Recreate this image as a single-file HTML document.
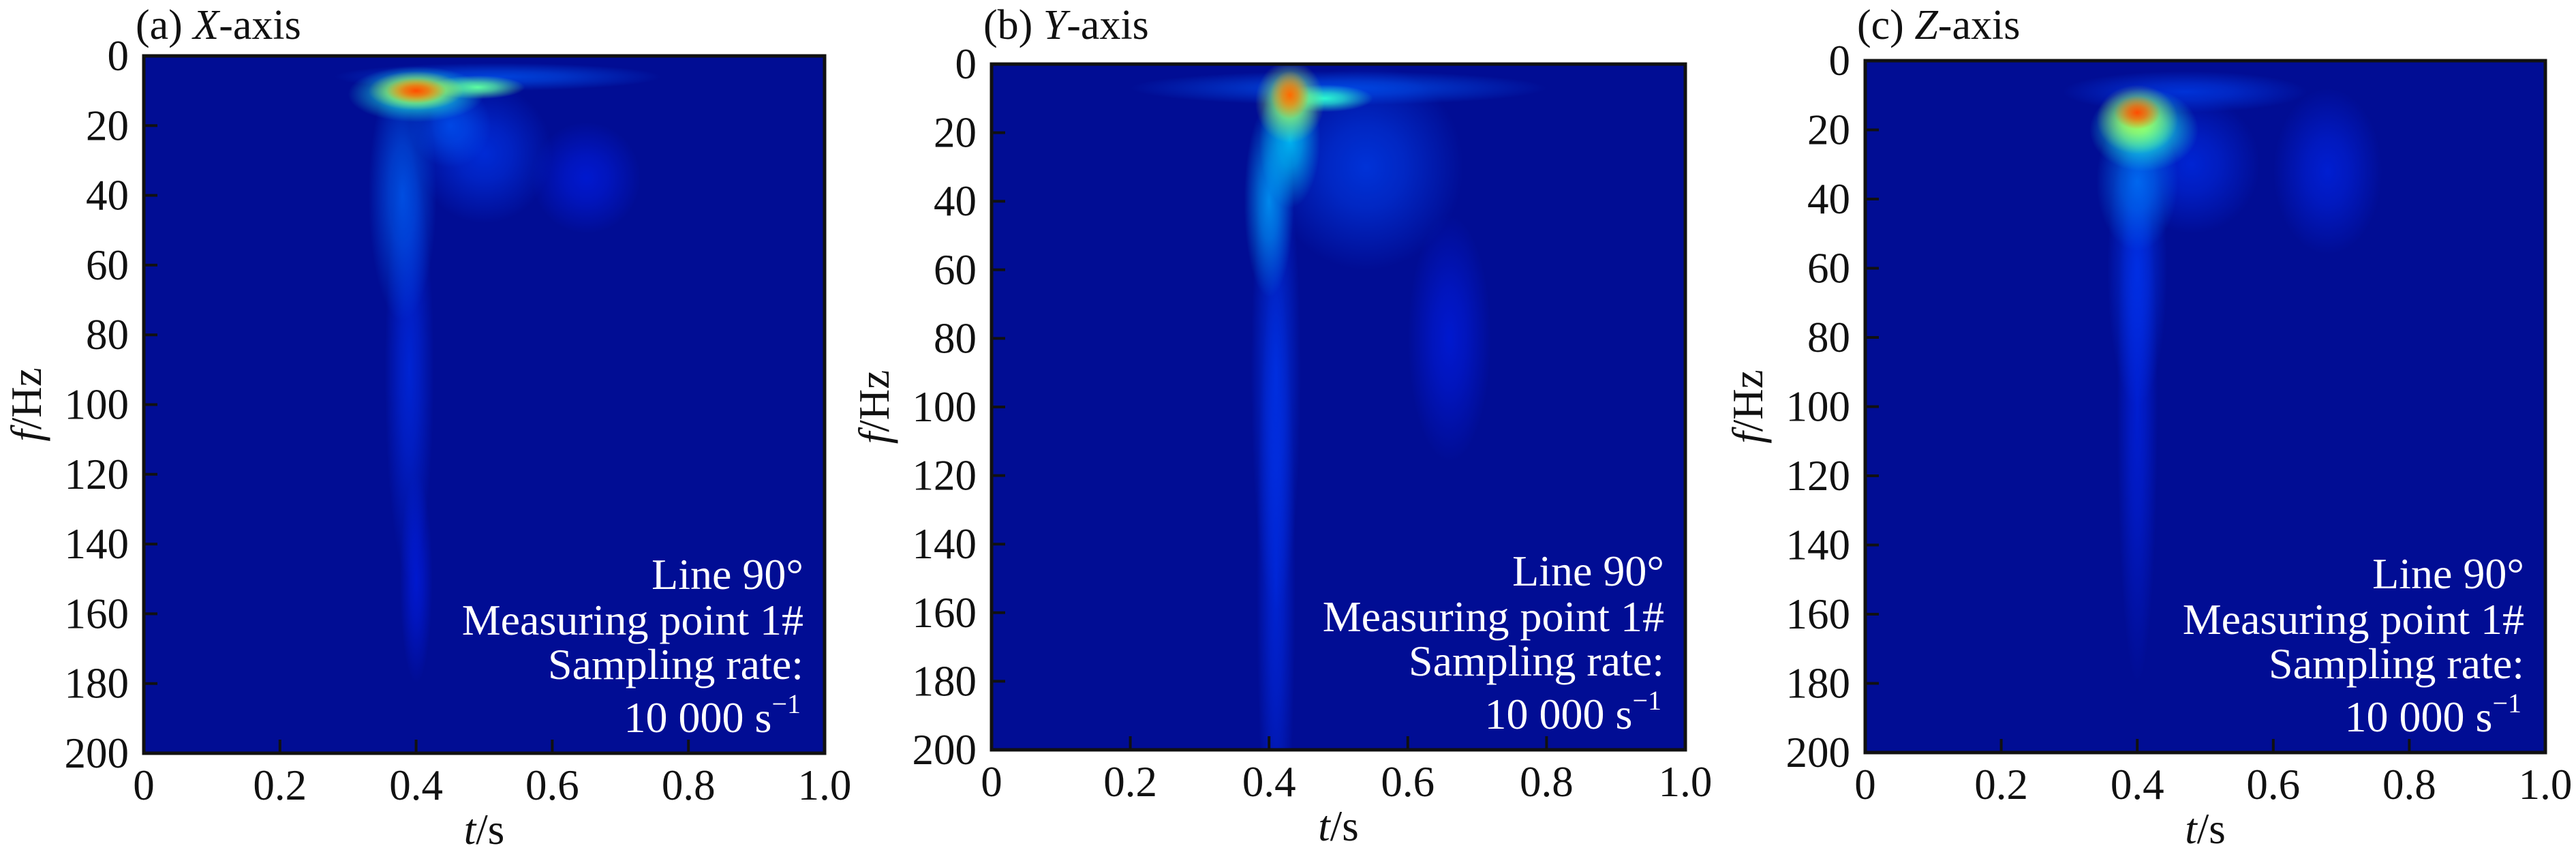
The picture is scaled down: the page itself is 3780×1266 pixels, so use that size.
<!DOCTYPE html>
<html><head><meta charset="utf-8">
<style>
html,body{margin:0;padding:0;background:#fff;width:3780px;height:1266px;overflow:hidden;}
svg{display:block;font-family:"Liberation Serif",serif;}
</style></head>
<body>
<svg id="fig" width="3780" height="1266" viewBox="0 0 3780 1266" xmlns="http://www.w3.org/2000/svg">
<defs id="defs"></defs>
</svg>
<script>
// ---- data ----
const xTicks = [0, 0.2, 0.4, 0.6, 0.8, 1.0];
const xTickLabels = ["0", "0.2", "0.4", "0.6", "0.8", "1.0"];
const yTicks = [0, 20, 40, 60, 80, 100, 120, 140, 160, 180, 200];
const yTickLabels = ["0","20","40","60","80","100","120","140","160","180","200"];
const panelIds = ["a", "b", "c"];
const panelAxisNames = ["X", "Y", "Z"];

// Panel (a) energy blobs: time (s), frequency (Hz), intensity (0-1), spread in t, spread in f
const aT   = [0.39, 0.40, 0.52, 0.65, 0.50, 0.38, 0.45, 0.40, 0.49, 0.40, 0.40];
const aF   = [90,   150,  6,    35,   28,   40,   20,   11,   9,    10,   10];
const aAmp = [0.14, 0.10, 0.22, 0.10, 0.16, 0.24, 0.22, 0.50, 0.58, 0.72, 0.95];
const aSt  = [0.018,0.012,0.12, 0.04, 0.05, 0.025,0.03, 0.05, 0.035,0.035,0.022];
const aSf  = [30,   15,   2,    8,    10,   18,   6,    4,    1.7,  2.8,  1.8];

// Panel (b)
const bT   = [0.41, 0.41, 0.66, 0.54, 0.50, 0.40, 0.43, 0.48, 0.43, 0.43];
const bF   = [150,  90,   80,   30,   7,    40,   22,   10,   11,   9];
const bAmp = [0.14, 0.16, 0.10, 0.18, 0.22, 0.34, 0.40, 0.52, 0.65, 0.92];
const bSt  = [0.014,0.018,0.03, 0.07, 0.15, 0.018,0.022,0.035,0.025,0.014];
const bSf  = [45,   35,   18,   15,   2.5,  14,   10,   2,    6,    3.5];

// Panel (c)
const cT   = [0.40, 0.68, 0.47, 0.40, 0.48, 0.40, 0.41, 0.40, 0.40];
const cF   = [100,  32,   9,    60,   30,   35,   20,   17,   15];
const cAmp = [0.12, 0.12, 0.18, 0.16, 0.14, 0.28, 0.50, 0.68, 0.95];
const cSt  = [0.015,0.04, 0.09, 0.022,0.05, 0.03, 0.04, 0.03, 0.017];
const cSf  = [40,   12,   3,    20,   10,   10,   6,    5,    2.4];

const blobSets = [
  {t:aT, f:aF, amp:aAmp, st:aSt, sf:aSf},
  {t:bT, f:bF, amp:bAmp, st:bSt, sf:bSf},
  {t:cT, f:cF, amp:cAmp, st:cSt, sf:cSf}
];

// ---- layout ----
const frames = [
  {left:211, right:1210, top:82, bottom:1105},
  {left:1455, right:2473, top:94, bottom:1100},
  {left:2737, right:3735, top:89, bottom:1104}
];
const NS = "http://www.w3.org/2000/svg";
const svg = document.getElementById("fig");
const defs = document.getElementById("defs");

function jet(v){
  v = Math.max(0, Math.min(1, v));
  const r = Math.max(0, Math.min(1, 1.5 - Math.abs(4*v - 3)));
  const g = Math.max(0, Math.min(1, 1.5 - Math.abs(4*v - 2)));
  const b = Math.max(0, Math.min(1, 1.5 - Math.abs(4*v - 1)));
  return "rgb(" + Math.round(r*255) + "," + Math.round(g*255) + "," + Math.round(b*255) + ")";
}
function mk(tag, attrs, parent){
  const e = document.createElementNS(NS, tag);
  for (const k in attrs) e.setAttribute(k, attrs[k]);
  (parent || svg).appendChild(e);
  return e;
}

frames.forEach((fr, pi) => {
  const xS = t => fr.left + t * (fr.right - fr.left);
  const yS = f => fr.top + f / 200 * (fr.bottom - fr.top);
  const g = mk("g", {});
  
  

  const clip = mk("clipPath", {id: "clip" + pi}, defs);
  mk("rect", {x: fr.left, y: fr.top, width: fr.right - fr.left, height: fr.bottom - fr.top}, clip);

  const bg = mk("rect", {x: fr.left, y: fr.top, width: fr.right - fr.left, height: fr.bottom - fr.top, fill: "#010d94"}, g);
  
  

  const hg = mk("g", {"clip-path": "url(#clip" + pi + ")"}, g);
  
  
  const bs = blobSets[pi];
  const order = bs.amp.map((a, i) => i).sort((i, j) => bs.amp[i] - bs.amp[j]);
  order.forEach(i => {
    const gid = "g" + pi + "_" + i;
    const rg = mk("radialGradient", {id: gid}, defs);
    const col = jet(0.13 + Math.pow(bs.amp[i], 1.4) * 0.72);
    const op = Math.min(1, 0.45 + bs.amp[i]);
    mk("stop", {offset: "0%", "stop-color": col, "stop-opacity": op}, rg);
    mk("stop", {offset: "40%", "stop-color": col, "stop-opacity": op * 0.7}, rg);
    mk("stop", {offset: "100%", "stop-color": col, "stop-opacity": 0}, rg);
    const cx = xS(bs.t[i]), cy = yS(bs.f[i]);
    const rx = xS(bs.t[i] + 2 * bs.st[i]) - cx;
    const ry = yS(bs.f[i] + 2 * bs.sf[i]) - cy;
    const el = mk("ellipse", {cx: cx, cy: cy, rx: rx, ry: ry, fill: "url(#" + gid + ")"}, hg);
    
    
  });

  // ticks
  xTicks.forEach((t, i) => {
    if (i > 0 && i < xTicks.length - 1) {
      const tk = mk("line", {x1: xS(t), x2: xS(t), y1: fr.bottom, y2: fr.bottom - 20, stroke: "#111", "stroke-width": 4}, g);
      
      
    }
    const tl = mk("text", {x: xS(t), y: fr.bottom + 68, "font-size": 63, "text-anchor": "middle", fill: "#111"}, g);
    tl.textContent = xTickLabels[i];
    
    
  });
  yTicks.forEach((f, i) => {
    if (i > 0 && i < yTicks.length - 1) {
      const tk = mk("line", {x1: fr.left, x2: fr.left + 20, y1: yS(f), y2: yS(f), stroke: "#111", "stroke-width": 4}, g);
      
      
    }
    const tl = mk("text", {x: fr.left - 22, y: yS(f) + 21, "font-size": 63, "text-anchor": "end", fill: "#111"}, g);
    tl.textContent = yTickLabels[i];
    
    
  });

  const border = mk("rect", {x: fr.left, y: fr.top, width: fr.right - fr.left, height: fr.bottom - fr.top, fill: "none", stroke: "#111", "stroke-width": 5}, g);
  
  

  // axis titles
  const xt = mk("text", {x: (fr.left + fr.right) / 2, y: fr.bottom + 133, "font-size": 63, "text-anchor": "middle", fill: "#111"}, g);
  xt.innerHTML = '<tspan font-style="italic">t</tspan>/s';
  
  
  const ycx = fr.left - 172, ycy = (fr.top + fr.bottom) / 2;
  const yt = mk("text", {x: ycx, y: ycy, "font-size": 63, "text-anchor": "middle", fill: "#111", transform: "rotate(-90 " + ycx + " " + ycy + ") translate(0 21)"}, g);
  yt.innerHTML = '<tspan font-style="italic">f</tspan>/Hz';
  
  

  const title = mk("text", {x: fr.left - 12, y: 57, "font-size": 62, fill: "#111"}, g);
  title.innerHTML = '(' + panelIds[pi] + ') <tspan font-style="italic">' + panelAxisNames[pi] + '</tspan>-axis';
  
  

  // annotation
  const ax = fr.right - 31;
  const lines = ["Line 90°", "Measuring point 1#", "Sampling rate:"];
  const offs = [-241, -174, -109];
  lines.forEach((s, k) => {
    const tx = mk("text", {x: ax, y: fr.bottom + offs[k], "font-size": 64, "text-anchor": "end", fill: "#fff"}, g);
    tx.textContent = s;
    
    
  });
  const last = mk("text", {x: ax - 4, y: fr.bottom - 31, "font-size": 64, "text-anchor": "end", fill: "#fff"}, g);
  last.innerHTML = '10 000 s<tspan font-size="40" dy="-28">−1</tspan>';
  
  
});
</script>
</body></html>
